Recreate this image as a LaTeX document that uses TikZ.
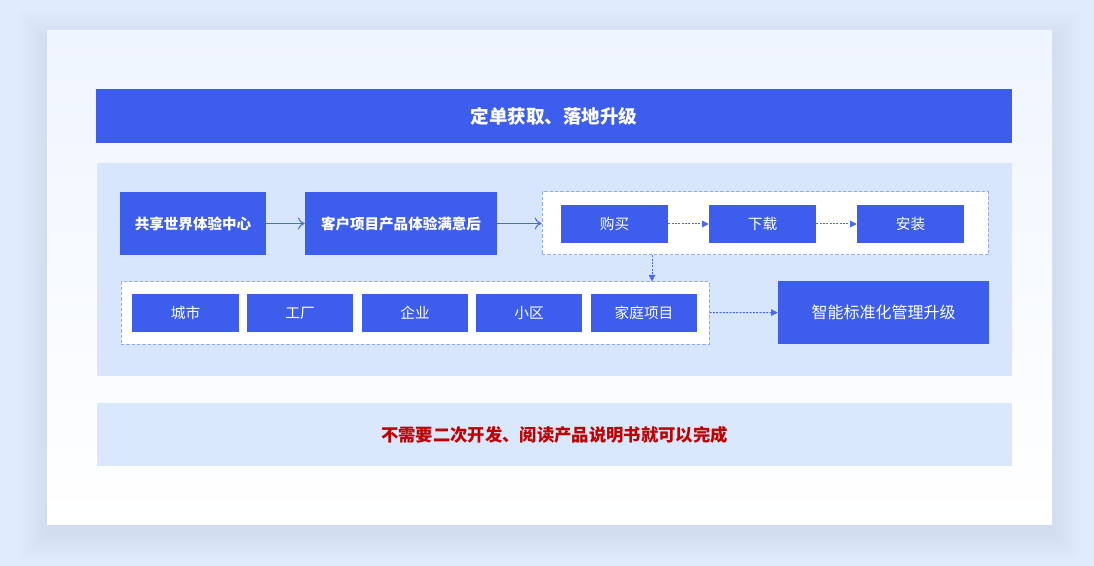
\documentclass[tikz,border=0pt]{standalone}
\usepackage{fontspec}
\newfontfamily\cjk{Noto Sans CJK SC}
\usepackage{tikz}
\usetikzlibrary{%
  positioning,
  fit,
  arrows.meta,
}

\definecolor{mainblue}{HTML}{3D5EEC}
\definecolor{panelblue}{HTML}{D7E6FD}
\definecolor{notepanel}{HTML}{DAE8FD}
\definecolor{pageblue}{HTML}{E0ECFD}
\definecolor{cardtop}{HTML}{EFF5FF}
\definecolor{framedash}{HTML}{93ACF2}
\definecolor{flowblue}{HTML}{4A6BE8}
\definecolor{noticered}{HTML}{C00000}

\begin{document}
\begin{tikzpicture}[
    x = 0.75pt, y = -0.75pt,
    blk/.style = {
      fill = mainblue, inner sep = 0pt, draw = none,
    },
    txt/.style = {
      text = white, inner sep = 0pt,
      font = \cjk\fontsize{11}{13}\selectfont,
    },
    btxt/.style = {
      txt,
      font = \cjk\bfseries\fontsize{10.9}{13}\selectfont,
    },
    frame/.style = {
      fill = white, draw = framedash, line width = 0.75pt,
      dash pattern = on 2.5pt off 1.5pt, inner sep = 0pt,
    },
    flow/.style = {
      draw = flowblue, line width = 0.8pt,
      -{To[length=5pt, width=9pt]},
    },
    dotflow/.style = {
      draw = flowblue, line width = 0.75pt,
      dash pattern = on 1.5pt off 1pt,
      -{Triangle[length=5pt, width=5pt]},
    },
  ]
  \useasboundingbox (0,0) rectangle (1094,566);

  % page and card
  \fill[pageblue] (0,0) rectangle (1094,566);
  \foreach \i in {1,...,14} {
    \fill[mainblue, opacity=0.004]
      (47-2*\i,31-2*\i+8) rectangle (1052+2*\i,524+2*\i+8);
  }
  \shade[top color = cardtop, bottom color = white]
    (47,31) rectangle (1052,524);

  % title bar
  \node[blk, fit = {(96,89) (1012,143)},
    label = {[txt, font = \cjk\bfseries\fontsize{13.9}{16}\selectfont]center:定单获取、落地升级}] (title) {};

  % middle panel
  \fill[panelblue] (97,163) rectangle (1012,376);

  \node[blk, fit = {(120,192) (266,255)}, label = {[btxt]center:共享世界体验中心}] (share) {};
  \node[blk, fit = {(305,192) (497,255)}, label = {[btxt]center:客户项目产品体验满意后}] (happy) {};

  \node[frame, fit = {(542,192) (988,255)}] (buyframe) {};
  \node[blk, fit = {(561,205) (668,243)}, label = {[txt]center:购买}] (buy) {};
  \node[blk, fit = {(709,205) (816,243)}, label = {[txt]center:下载}] (load) {};
  \node[blk, fit = {(857,205) (964,243)}, label = {[txt]center:安装}] (setup) {};

  \node[frame, fit = {(121,282) (709,344)}] (placeframe) {};
  \node[blk, fit = {(132,294) (239,332)}, label = {[txt]center:城市}] (city) {};
  \node[blk, fit = {(247,294) (353,332)}, label = {[txt]center:工厂}] (plant) {};
  \node[blk, fit = {(362,294) (468,332)}, label = {[txt]center:企业}] (firm) {};
  \node[blk, fit = {(476,294) (582,332)}, label = {[txt]center:小区}] (block) {};
  \node[blk, fit = {(591,294) (697,332)}, label = {[txt]center:家庭项目}] (home) {};

  \node[blk, fit = {(778,281) (989,344)},
    label = {[txt, font = \cjk\fontsize{12}{14}\selectfont]center:智能标准化管理升级}] (smart) {};

  \coordinate (drop) at (652,0);

  \draw[flow] (share) -- (happy);
  \draw[flow] (happy) -- (buyframe);
  \draw[dotflow] (buy) -- (load);
  \draw[dotflow] (load) -- (setup);
  \draw[dotflow] (buyframe.south -| drop) -- (placeframe.north -| drop);
  \draw[dotflow] (placeframe) -- (smart);

  % bottom note
  \node[fill = notepanel, inner sep = 0pt, fit = {(97,403) (1012,466)},
    label = {[txt, text = noticered, font = \cjk\bfseries\fontsize{13}{15}\selectfont]center:不需要二次开发、阅读产品说明书就可以完成}] (note) {};
\end{tikzpicture}
\end{document}
